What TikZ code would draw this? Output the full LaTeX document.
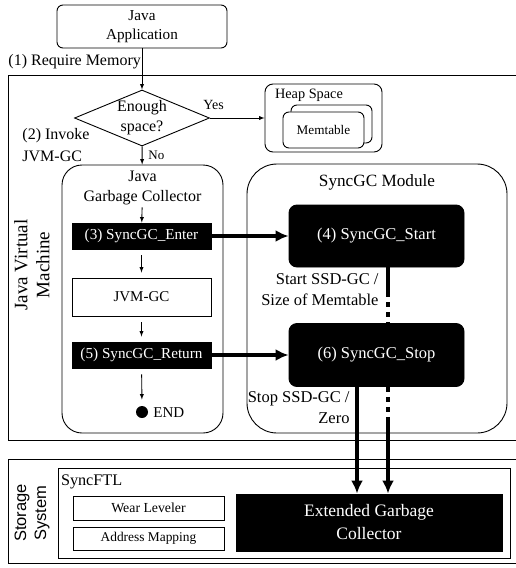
\documentclass[tikz,border=0pt]{standalone}
\usepackage{fontspec}
\setmainfont{Liberation Serif}
\newfontfamily\sansf{Liberation Sans}
\usepackage{xcolor}
\usepackage{tikz}
\usetikzlibrary{shapes,shapes.geometric}
\usetikzlibrary{calc,arrows,arrows.meta,positioning}
\newcommand{\fs}[2]{\fontsize{#1}{#2}\selectfont}
\tikzset{
  every path/.style={line width=0.9pt},
  rbox/.style={draw, rounded corners=6pt, align=center, fill=white},
  wbox/.style={draw, align=center, fill=white},
  bbox/.style={draw, fill=black, text=white, align=center},
  thin_a/.style={-latex},
  thick_a/.style={-{Latex[length=13pt,width=12pt]}, line width=4pt},
  frame/.style={draw},
  lbl/.style={inner sep=0pt, align=left}
}

\begin{document}
\begin{tikzpicture}[x=1pt, y=-1pt, font=\fs{16}{22}]
	\useasboundingbox (0,0) rectangle (516,568);
	% outer frames
	\draw[frame] (530,75) -| (8,440) -- (530,440);
	\draw[frame] (530,459) -| (8,563) -- (530,563);
	\node[rotate=90, align=center, font=\fs{19}{22}] (jvm_l) at (32,265) {Java Virtual\\Machine};
	\node[rotate=90, align=center, font=\sansf\fs{16.5}{20}] (sto_l) at (32,513) {Storage\\System};

	% application and memory check
	\node[rbox, minimum width=170pt, minimum height=43pt, font=\fs{15.2}{19}] (app) at (142,26.5) {Java\\Application};
	\node[lbl, anchor=west] (req) at (8,62) {(1) Require Memory};
	\node[draw, diamond, aspect=2.4, minimum width=135pt, minimum height=56pt, inner sep=0pt, align=center, font=\fs{16}{20}] (dia) at (142,118) {Enough\\space?};
	\node[rbox, rounded corners=8pt, minimum width=117pt, minimum height=68pt] (heap) at (323.5,118) {};
	\node[lbl, anchor=north west, font=\fs{14.3}{16}] (heap_l) at ([shift={(10,5)}]heap.north west) {Heap Space};
	\node[rbox, minimum width=81pt, minimum height=38pt] (mt_b) at (331.5,124) {};
	\node[rbox, minimum width=81pt, minimum height=36pt, font=\fs{13.2}{15}] (mt) at (323.5,130) {Memtable};
	\node[lbl, anchor=north west] (inv) at (22,128) {(2) Invoke\\JVM-GC};

	% java garbage collector
	\node[rbox, rounded corners=20pt, minimum width=161pt, minimum height=268pt] (jgc) at (142.5,299) {};
	\node[align=center, anchor=north, inner sep=2pt, font=\fs{16}{20}] (jgc_t) at ([yshift=-4]jgc.north) {Java\\Garbage Collector};
	\node[bbox, minimum width=139pt, minimum height=26pt, font=\fs{15.2}{17}] (enter) at (141.5,236) {(3) SyncGC\_Enter};
	\node[wbox, minimum width=139pt, minimum height=38pt, font=\fs{15}{17}] (jvmgc) at (141.5,297) {JVM-GC};
	\node[bbox, minimum width=139pt, minimum height=26pt, font=\fs{15.2}{17}] (ret) at (141.5,355) {(5) SyncGC\_Return};
	\node[circle, fill=black, minimum size=12pt, inner sep=0pt] (fin) at (142,412) {};
	\node[anchor=west, inner sep=0pt, font=\fs{15}{17}] (fin_l) at (153,413) {END};

	% syncgc module
	\node[rbox, rounded corners=30pt, minimum width=260pt, minimum height=269pt] (sgc) at (377,298.5) {};
	\node[anchor=north, font=\fs{17.2}{20}] (sgc_t) at ([yshift=-7]sgc.north) {SyncGC Module};
	\node[bbox, rounded corners=8pt, minimum width=175pt, minimum height=62pt, font=\fs{16.5}{19}] (start) at (376.5,236) {(4) SyncGC\_Start};
	\node[bbox, rounded corners=8pt, minimum width=175pt, minimum height=63pt, font=\fs{16.5}{19}] (stop) at (376.5,355) {(6) SyncGC\_Stop};
	\node[lbl, align=right, anchor=north east, font=\fs{16.5}{21}] (start_l) at (379,273) {Start SSD-GC /\\Size of Memtable};
	\node[lbl, align=right, anchor=north east, font=\fs{16.5}{21}] (stop_l) at (350,391) {Stop SSD-GC /\\Zero};

	% storage system
	\node[wbox, minimum width=452pt, minimum height=90pt] (ftl) at (284,513) {};
	\node[lbl, anchor=north west, font=\fs{16.2}{18}] (ftl_l) at ([shift={(3,7)}]ftl.north west) {SyncFTL};
	\node[wbox, minimum width=151pt, minimum height=24pt, font=\fs{13.8}{16}] (wear) at (148.5,508) {Wear Leveler};
	\node[wbox, minimum width=151pt, minimum height=23pt, font=\fs{13.4}{16}] (addr) at (148.5,538.5) {Address Mapping};
	\node[bbox, minimum width=266pt, minimum height=57pt, font=\fs{17.5}{23}] (ext) at (369,522.5) {Extended Garbage\\Collector};

	% connectors
	\draw[thin_a] (app) -- (dia);
	\draw[thin_a] (dia) -- (heap);
	\node[anchor=south west, inner sep=0pt, font=\fs{14}{16}] (yes) at (203,110) {Yes};
	\draw[thin_a] (dia) -- (jgc);
	\node[anchor=west, inner sep=0pt, font=\fs{13}{15}] (no) at (148,155) {No};
	\draw[thin_a] (jgc_t) -- (enter);
	\draw[thin_a, shorten <=6pt, shorten >=5pt] (enter) -- (jvmgc);
	\draw[thin_a, shorten <=6pt, shorten >=5pt] (jvmgc) -- (ret);
	\draw[thin_a, shorten <=6pt, shorten >=6pt] (ret) -- (fin);
	\draw[thick_a] (enter) -- (start);
	\draw[thick_a] (ret) -- (stop);
	\draw[line width=4pt] ([xshift=11.5pt]start.south) -- ++(0,25) coordinate (c1);
	\draw[line width=4pt, dash pattern=on 5pt off 5pt] (c1) -- ([xshift=11.5pt]stop.north);
	\draw[line width=4pt, dash pattern=on 5pt off 5pt] ([xshift=11.5pt]stop.south) -- ++(0,32) coordinate (c2);
	\draw[thick_a] (c2) -- ([xshift=19pt]ext.north);
	\draw[thick_a] ([xshift=-19.5pt]stop.south) -- ([xshift=-12pt]ext.north);
\end{tikzpicture}
\end{document}
